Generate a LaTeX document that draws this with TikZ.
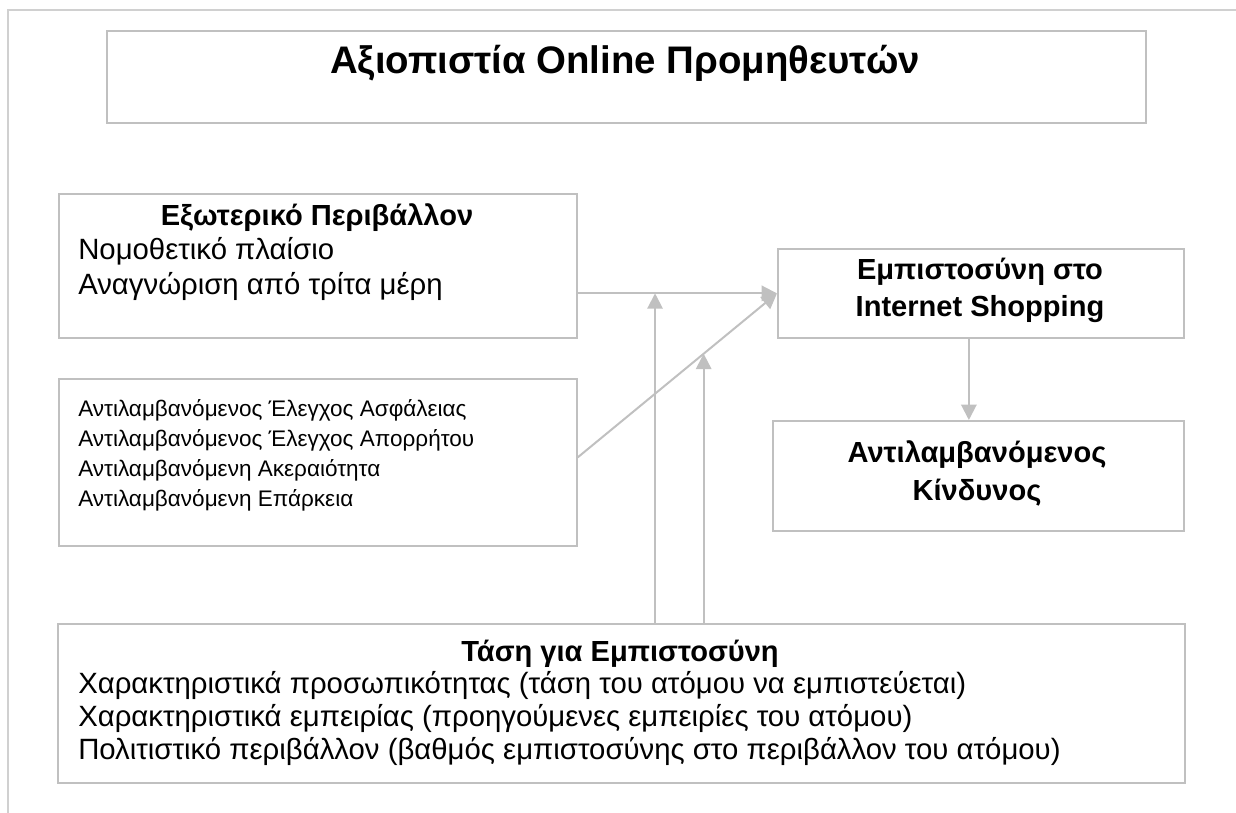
\documentclass[tikz,border=0pt]{standalone}
\usepackage{fontspec}
\setmainfont{Liberation Sans}
\usetikzlibrary{arrows.meta,calc}
\definecolor{lg}{HTML}{C0C0C0}
\definecolor{fr}{HTML}{D0D0D0}
\begin{document}
\begin{tikzpicture}[x=0.75pt,y=-0.75pt,
 box/.style={draw=lg, line width=1.3pt, inner sep=0pt, anchor=north west},
 arr/.style={draw=lg, line width=1.5pt, -{Triangle[length=11.5pt,width=11.5pt]}},
 ttl/.style={font=\fontsize{28.8}{32}\selectfont\bfseries, anchor=base, inner sep=0pt},
 hd/.style={font=\fontsize{21.8}{26}\selectfont\bfseries, anchor=base, inner sep=0pt},
 bd/.style={font=\fontsize{22}{26}\selectfont, anchor=base west, inner sep=0pt},
 sm/.style={font=\fontsize{16.9}{20}\selectfont, anchor=base west, inner sep=0pt}]
\useasboundingbox (0,0) rectangle (1236,813);
\draw[fr, line width=1.5pt] (8,813) -- (8,10) -- (1236,10);

% boxes
\node[box, minimum width={1039*0.75pt}, minimum height={92*0.75pt}] (title) at (106,30) {};
\node[box, minimum width={518*0.75pt}, minimum height={144*0.75pt}] (ext) at (58,193) {};
\node[box, minimum width={406*0.75pt}, minimum height={89*0.75pt}] (trust) at (777,248) {};
\node[box, minimum width={518*0.75pt}, minimum height={167*0.75pt}] (perc) at (58,378) {};
\node[box, minimum width={411*0.75pt}, minimum height={110*0.75pt}] (risk) at (772,420) {};
\node[box, minimum width={1127*0.75pt}, minimum height={159*0.75pt}] (tend) at (57,623) {};

% texts
\node[ttl] (t0) at (625,74) {Αξιοπιστία Online Προμηθευτών};
\node[hd] (e0) at (317,226) {Εξωτερικό Περιβάλλον};
\node[bd] (e1) at (78,259) {Νομοθετικό πλαίσιο};
\node[bd] (e2) at (78,294) {Αναγνώριση από τρίτα μέρη};
\node[hd] (s1) at (980,280) {Εμπιστοσύνη στο};
\node[hd] (s2) at (980,316) {Internet Shopping};
\node[hd] (r1) at (977,462) {Αντιλαμβανόμενος};
\node[hd] (r2) at (977,500) {Κίνδυνος};
\node[sm] (p1) at (78,416) {Αντιλαμβανόμενος Έλεγχος Ασφάλειας};
\node[sm] (p2) at (78,446) {Αντιλαμβανόμενος Έλεγχος Απορρήτου};
\node[sm] (p3) at (78,476) {Αντιλαμβανόμενη Ακεραιότητα};
\node[sm] (p4) at (78,506) {Αντιλαμβανόμενη Επάρκεια};
\node[hd] (b0) at (620,661) {Τάση για Εμπιστοσύνη};
\node[bd] (b1) at (78,693) {Χαρακτηριστικά προσωπικότητας (τάση του ατόμου να εμπιστεύεται)};
\node[bd] (b2) at (78,726) {Χαρακτηριστικά εμπειρίας (προηγούμενες εμπειρίες του ατόμου)};
\node[bd] (b3) at (78,759) {Πολιτιστικό περιβάλλον (βαθμός εμπιστοσύνης στο περιβάλλον του ατόμου)};

% connectors
\coordinate (es) at (ext.east |- trust.west);
\draw[arr] (es) -- (trust.west);
\coordinate (ps) at ($(perc.east)+(0,-5)$);
\draw[arr] (ps) -- (trust.west);
\coordinate (h) at ($(es)!0.388!(trust.west)$);
\draw[arr] (h |- tend.north) -- (h);
\coordinate (d) at ($(ps)!0.632!(trust.west)$);
\draw[arr] (d |- tend.north) -- (d);
\coordinate (ts) at ($(trust.south)+(-12,0)$);
\draw[arr] (ts) -- (ts |- risk.north);
\end{tikzpicture}
\end{document}
